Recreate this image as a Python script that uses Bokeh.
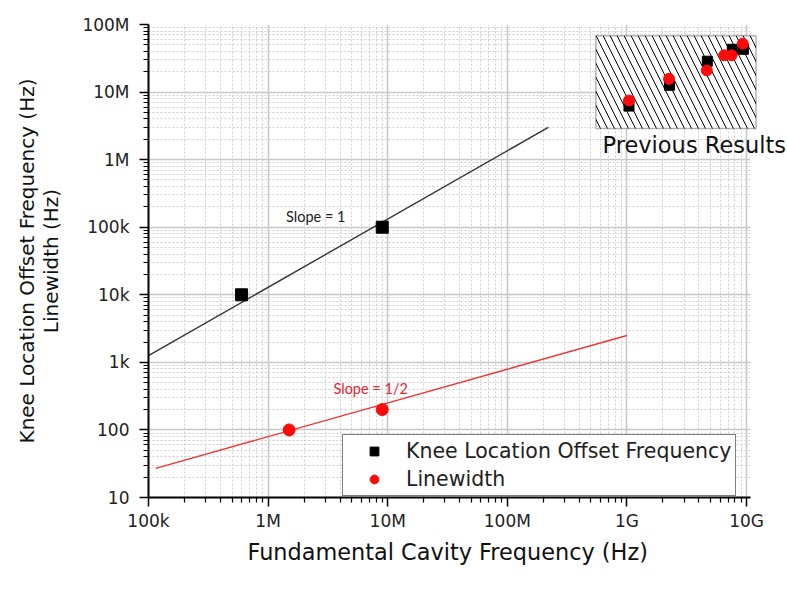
from bokeh.plotting import figure
from bokeh.models import FixedTicker, BoxAnnotation, Label, Legend, LegendItem, Range1d, Title
from bokeh.embed import file_html
from bokeh.resources import INLINE

# ---- data ----
knee_freq = [6.0e5, 9.0e6]
knee_offset = [1.0e4, 1.0e5]
lw_freq = [1.5e6, 9.0e6]
lw_val = [100, 200]

fit1_freq = [1.0e5, 2.2e8]
fit1_val = [1.26e3, 3.0e6]
fit2_freq = [1.15e5, 1.0e9]
fit2_val = [27, 2500]

prev_knee_freq = [1.04e9, 2.27e9, 4.7e9, 7.6e9, 9.4e9]
prev_knee_offset = [6.2e6, 1.26e7, 2.86e7, 4.3e7, 4.3e7]
prev_lw_freq = [1.04e9, 2.25e9, 4.65e9, 6.5e9, 7.5e9, 9.3e9]
prev_lw_val = [7.5e6, 1.57e7, 2.09e7, 3.5e7, 3.5e7, 5.2e7]

x_tick_values = [1e5, 1e6, 1e7, 1e8, 1e9, 1e10]
x_tick_labels = ["100k", "1M", "10M", "100M", "1G", "10G"]
y_tick_values = [1e1, 1e2, 1e3, 1e4, 1e5, 1e6, 1e7, 1e8]
y_tick_labels = ["10", "100", "1k", "10k", "100k", "1M", "10M", "100M"]

FONT = "DejaVu Sans"
X_AXIS_END = 1.08e10

p = figure(width=787, height=592, x_axis_type="log", y_axis_type="log",
           x_range=Range1d(1e5, 2.2e10), y_range=Range1d(10, 1e8),
           output_backend="svg", toolbar_location=None,
           min_border_left=148, min_border_right=0, min_border_top=24, min_border_bottom=95)
p.outline_line_color = None
p.background_fill_color = "white"
p.border_fill_color = "white"

def minor(majors):
    out = []
    for m in majors[:-1]:
        for k in range(2, 10):
            out.append(m * k)
    return out

p.xaxis.ticker = FixedTicker(ticks=x_tick_values, minor_ticks=minor(x_tick_values))
p.yaxis.ticker = FixedTicker(ticks=y_tick_values, minor_ticks=minor(y_tick_values))
p.xaxis.major_label_overrides = {int(v): s for v, s in zip(x_tick_values, x_tick_labels)}
p.yaxis.major_label_overrides = {int(v): s for v, s in zip(y_tick_values, y_tick_labels)}
p.xaxis.bounds = (1e5, X_AXIS_END)

for ax in (p.xaxis, p.yaxis):
    ax.axis_line_width = 2
    ax.axis_line_color = "black"
    ax.major_tick_line_width = 1.5
    ax.minor_tick_line_width = 1.2
    ax.major_tick_out = 9
    ax.minor_tick_out = 5
    ax.major_tick_in = 0
    ax.minor_tick_in = 0
    ax.major_label_text_font = FONT
    ax.major_label_text_font_size = "17px"
    ax.major_label_text_color = "#222222"
    ax.axis_label_text_font = FONT
    ax.axis_label_text_font_style = "normal"
    ax.axis_label_text_color = "#111111"

p.xaxis.major_label_standoff = 4
p.yaxis.major_label_standoff = 10
p.yaxis.axis_label = "Knee Location Offset Frequency (Hz)\nLinewidth (Hz)"
p.yaxis.axis_label_text_font_size = "20px"
p.yaxis.axis_label_text_align = "center"
p.yaxis.axis_label_text_line_height = 1.0
p.yaxis.axis_label_standoff = 16

# x-axis title, placed to be centred on the drawn axis (not the widened frame)
xlabel = Title(text="Fundamental Cavity Frequency (Hz)", align="left", offset=99,
               text_font=FONT, text_font_size="22.4px", text_font_style="normal",
               text_color="#111111", standoff=6)
p.add_layout(xlabel, "below")

for g in (p.xgrid, p.ygrid):
    g.grid_line_color = "#c8c8c8"
    g.grid_line_width = 1.6
    g.minor_grid_line_color = "#cfcfcf"
    g.minor_grid_line_width = 1
    g.minor_grid_line_dash = "2 2"

# blank out the grid to the right of the plotted axis extent
p.add_layout(BoxAnnotation(left=X_AXIS_END, fill_color="white", fill_alpha=1.0,
                           line_color=None, level="underlay"))

# inset box for previous results
inset = BoxAnnotation(left=5.5e8, right=1.2e10, bottom=2.9e6, top=6.8e7,
                      fill_color="white", fill_alpha=1.0,
                      line_color="black", line_width=1.5,
                      hatch_pattern="\\", hatch_color="black", hatch_scale=14,
                      hatch_weight=1, level="underlay")
p.add_layout(inset)

# fit lines
p.line(fit1_freq, fit1_val, line_color="#333333", line_width=1.4)
p.line(fit2_freq, fit2_val, line_color="#ee3333", line_width=1.4)

# main data
r_knee = p.scatter(knee_freq, knee_offset, marker="square", size=12,
                   fill_color="black", line_color="black")
r_lw = p.scatter(lw_freq, lw_val, marker="circle", size=12,
                 fill_color="#ff0a0a", line_color="#ff0a0a")

# previous results
p.scatter(prev_knee_freq, prev_knee_offset, marker="square", size=10,
          fill_color="black", line_color="black")
p.scatter(prev_lw_freq, prev_lw_val, marker="circle", size=11,
          fill_color="#ff0a0a", line_color="#ff0a0a")

p.add_layout(Label(x=2.5e6, y=1.44e5, text="Slope = 1", text_font="Lato",
                   text_font_size="14.5px", text_color="#222222",
                   text_align="center", text_baseline="middle"))
p.add_layout(Label(x=7.2e6, y=407, text="Slope = 1/2", text_font="Lato",
                   text_font_size="14.5px", text_color="#ee2233",
                   text_align="center", text_baseline="middle"))
p.add_layout(Label(x=6.25e8, y=1.62e6, text="Previous Results", text_font=FONT,
                   text_font_size="22.5px", text_color="#111111",
                   text_align="left", text_baseline="middle"))

legend = Legend(items=[LegendItem(label="Knee Location Offset Frequency", renderers=[r_knee]),
                       LegendItem(label="Linewidth", renderers=[r_lw])],
                location=(194, 1))
legend.label_text_font = FONT
legend.label_text_font_size = "20.5px"
legend.label_text_line_height = 1.0
legend.label_text_color = "#222222"
legend.padding = 4
legend.margin = 0
legend.glyph_width = 54
legend.glyph_height = 22
legend.label_height = 22
legend.label_standoff = 5
legend.spacing = 4
legend.border_line_color = "black"
legend.border_line_width = 1.6
legend.background_fill_color = "white"
legend.background_fill_alpha = 1.0
p.add_layout(legend)

open("out.html", "w").write(file_html(p, INLINE))
